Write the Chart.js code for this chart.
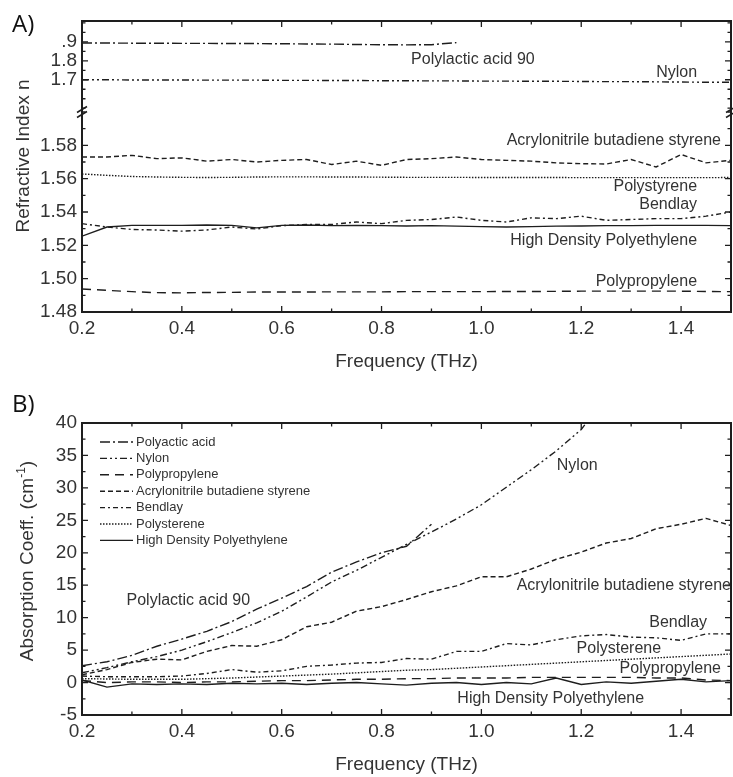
<!DOCTYPE html>
<html>
<head>
<meta charset="utf-8">
<script src="https://cdn.jsdelivr.net/npm/chart.js@4.4.1/dist/chart.umd.min.js"></script>
<style>
  body { margin: 0; background: #fff; }
  canvas { display: block; }
</style>
</head>
<body>
<canvas id="chartA" width="733" height="374"></canvas>
<canvas id="chartB" width="733" height="403"></canvas>
<script>
// frequency grid (THz), shared by every curve
const freq = [0.20, 0.25, 0.30, 0.35, 0.40, 0.45, 0.50, 0.55, 0.60, 0.65, 0.70, 0.75, 0.80, 0.85,
              0.90, 0.95, 1.00, 1.05, 1.10, 1.15, 1.20, 1.25, 1.30, 1.35, 1.40, 1.45, 1.50];

// A) refractive index n
const nPla     = [1.894, 1.894, 1.893, 1.893, 1.892, 1.892, 1.891, 1.891, 1.890, 1.889, 1.888, 1.886, 1.885, 1.884,
                  1.885, 1.896, null, null, null, null, null, null, null, null, null, null, null];
const nNylon   = [1.700, 1.700, 1.699, 1.699, 1.699, 1.698, 1.698, 1.698, 1.697, 1.697, 1.696, 1.696, 1.695, 1.695,
                  1.694, 1.694, 1.693, 1.693, 1.692, 1.692, 1.691, 1.690, 1.690, 1.689, 1.688, 1.687, 1.687];
const nPp      = [1.4938, 1.4930, 1.4922, 1.4916, 1.4915, 1.4917, 1.4918, 1.4920, 1.4920, 1.4920, 1.4921, 1.4921, 1.4921, 1.4922,
                  1.4922, 1.4922, 1.4922, 1.4923, 1.4923, 1.4924, 1.4925, 1.4925, 1.4925, 1.4925, 1.4925, 1.4923, 1.4922];
const nAbs     = [1.5730, 1.5730, 1.5740, 1.5720, 1.5725, 1.5705, 1.5715, 1.5700, 1.5710, 1.5715, 1.5685, 1.5705, 1.5680, 1.5715,
                  1.5720, 1.5730, 1.5715, 1.5710, 1.5705, 1.5695, 1.5690, 1.5688, 1.5715, 1.5670, 1.5745, 1.5695, 1.5710];
const nBendlay = [1.5330, 1.5310, 1.5295, 1.5292, 1.5285, 1.5292, 1.5310, 1.5298, 1.5318, 1.5325, 1.5325, 1.5340, 1.5330, 1.5350,
                  1.5355, 1.5370, 1.5350, 1.5340, 1.5365, 1.5360, 1.5375, 1.5350, 1.5355, 1.5360, 1.5360, 1.5375, 1.5400];
const nPs      = [1.5628, 1.5620, 1.5613, 1.5610, 1.5608, 1.5607, 1.5608, 1.5610, 1.5611, 1.5611, 1.5610, 1.5610, 1.5609, 1.5608,
                  1.5608, 1.5608, 1.5607, 1.5607, 1.5607, 1.5607, 1.5606, 1.5606, 1.5606, 1.5606, 1.5606, 1.5606, 1.5607];
const nHdpe    = [1.5255, 1.5310, 1.5320, 1.5320, 1.5320, 1.5322, 1.5320, 1.5305, 1.5320, 1.5322, 1.5318, 1.5320, 1.5318, 1.5316,
                  1.5318, 1.5315, 1.5312, 1.5310, 1.5312, 1.5315, 1.5316, 1.5318, 1.5318, 1.5320, 1.5320, 1.5320, 1.5318];

// B) absorption coefficient (cm-1)
const aPla     = [2.6, 3.2, 4.2, 5.6, 6.7, 7.9, 9.4, 11.3, 13.0, 14.8, 17.0, 18.6, 20.0, 21.0,
                  24.4, null, null, null, null, null, null, null, null, null, null, null, null];
const aNylon   = [1.5, 2.3, 3.2, 4.0, 5.0, 6.3, 7.7, 9.2, 11.0, 13.2, 15.5, 17.3, 19.3, 21.3,
                  23.2, 25.2, 27.4, 30.1, 32.8, 35.7, 39.0, 44.0, null, null, null, null, null];
const aPp      = [0.3, 0.0, 0.1, 0.1, 0.0, 0.1, 0.1, 0.2, 0.3, 0.3, 0.4, 0.5, 0.5, 0.6,
                  0.6, 0.7, 0.7, 0.7, 0.8, 0.8, 0.8, 0.8, 0.8, 0.7, 0.7, 0.4, 0.3];
const aAbs     = [1.2, 2.0, 3.1, 3.6, 3.5, 4.8, 5.7, 5.6, 6.6, 8.6, 9.3, 11.0, 11.7, 12.8,
                  14.0, 14.9, 16.3, 16.3, 17.5, 19.0, 20.1, 21.5, 22.2, 23.7, 24.4, 25.3, 24.2];
const aBendlay = [1.0, 0.9, 0.9, 0.9, 1.0, 1.4, 2.0, 1.6, 1.8, 2.5, 2.7, 3.0, 3.1, 3.7,
                  3.6, 4.8, 4.8, 6.0, 5.8, 6.6, 7.2, 7.4, 7.0, 6.9, 6.5, 7.5, 7.5];
const aPs      = [0.6, 0.55, 0.5, 0.5, 0.5, 0.6, 0.7, 0.85, 1.0, 1.15, 1.3, 1.5, 1.7, 1.9,
                  2.0, 2.2, 2.4, 2.6, 2.8, 3.0, 3.2, 3.4, 3.6, 3.8, 4.0, 4.2, 4.4];
const aHdpe    = [0.4, -0.7, -0.2, -0.3, -0.2, -0.3, -0.1, -0.2, -0.1, -0.3, -0.1, 0.0, -0.2, -0.4,
                  -0.1, 0.0, -0.3, 0.0, -0.2, 0.7, -0.3, 0.1, -0.1, 0.2, 0.5, 0.1, 0.3];

// legend names (order of datasets)
const legendNames = ['Polyactic acid', 'Nylon', 'Polypropylene', 'Acrylonitrile butadiene styrene',
                     'Bendlay', 'Polysterene', 'High Density Polyethylene'];

// ticks
const xTicks = [0.2, 0.4, 0.6, 0.8, 1.0, 1.2, 1.4];
const xTickLabels = ['0.2', '0.4', '0.6', '0.8', '1.0', '1.2', '1.4'];
const nLowTicks = [1.48, 1.50, 1.52, 1.54, 1.56, 1.58];
const nLowTickLabels = ['1.48', '1.50', '1.52', '1.54', '1.56', '1.58'];
const nUpTicks = [1.7, 1.8, 1.9];
const nUpTickLabels = ['1.7', '1.8', '.9'];
const aTicks = [-5, 0, 5, 10, 15, 20, 25, 30, 35, 40];
const aTickLabels = ['-5', '0', '5', '10', '15', '20', '25', '30', '35', '40'];

const FONT = '"Liberation Sans", Arial, sans-serif';
const INK = '#1e1e1e';
const TEXT = '#333';
const dashes = [[10, 3, 2, 3], [7, 3, 2, 3, 2, 3], [9, 6], [5, 3], [5, 3, 2, 3], [1.5, 1.5], []];

Chart.defaults.font.family = FONT;
Chart.defaults.color = TEXT;

function makeDataset(i, values, axis) {
  return {
    label: legendNames[i],
    data: freq.map((f, k) => ({ x: f, y: values[k] })),
    borderColor: INK,
    borderWidth: 1.4,
    borderDash: dashes[i],
    pointRadius: 0,
    fill: false,
    tension: 0,
    yAxisID: axis
  };
}

function fixedTicks(values) {
  return s => { s.ticks = values.map(v => ({ value: v })); };
}

function xScale() {
  return {
    type: 'linear', min: 0.2, max: 1.5,
    afterBuildTicks: fixedTicks(xTicks),
    afterFit: s => { s.height = 62; },
    grid: { display: false, drawTicks: false },
    border: { display: false },
    ticks: { padding: 5, font: { size: 19 }, color: TEXT, maxRotation: 0, autoSkip: false,
             callback: (v, i) => xTickLabels[i] },
    title: { display: true, text: 'Frequency (THz)', font: { size: 19 }, color: TEXT,
             padding: { top: 0, bottom: 1 } }
  };
}

function yScale(min, max, ticks, labels, extra) {
  return Object.assign({
    type: 'linear', position: 'left', min: min, max: max,
    afterBuildTicks: fixedTicks(ticks),
    afterFit: s => { s.width = 82; },
    grid: { display: false, drawTicks: false },
    border: { display: false },
    ticks: { padding: 5, font: { size: 19 }, color: TEXT, autoSkip: false,
             callback: (v, i) => labels[i] }
  }, extra);
}

// frame, inward ticks (both sides) and axis break
const framePlugin = {
  id: 'frame',
  afterDatasetsDraw(chart, args, opts) {
    const { ctx, chartArea: a } = chart;
    ctx.save();
    ctx.strokeStyle = INK;
    ctx.lineWidth = 1.3;
    for (const [id, step] of Object.entries(opts.minor)) {
      const s = chart.scales[id];
      const k0 = Math.ceil(s.min / step - 1e-6), k1 = Math.floor(s.max / step + 1e-6);
      for (let k = k0; k <= k1; k++) {
        const v = k * step;
        const major = s.ticks.some(t => Math.abs(t.value - v) < step / 10);
        const len = major ? 6 : 3.5;
        const p = s.getPixelForValue(v);
        ctx.beginPath();
        if (s.isHorizontal()) {
          ctx.moveTo(p, a.bottom); ctx.lineTo(p, a.bottom - len);
          ctx.moveTo(p, a.top); ctx.lineTo(p, a.top + len);
        } else {
          ctx.moveTo(a.left, p); ctx.lineTo(a.left + len, p);
          ctx.moveTo(a.right, p); ctx.lineTo(a.right - len, p);
        }
        ctx.stroke();
      }
    }
    ctx.lineWidth = 2;
    ctx.strokeRect(a.left, a.top, a.right - a.left, a.bottom - a.top);
    if (opts.breakAt) {
      const y = chart.scales[opts.breakAt].bottom;
      ctx.lineWidth = 1.5;
      for (const x of [a.left, a.right]) {
        for (const d of [-2.5, 2.5]) {
          ctx.beginPath();
          ctx.moveTo(x - 5, y + d + 3);
          ctx.lineTo(x + 5, y + d - 3);
          ctx.stroke();
        }
      }
    }
    ctx.restore();
  }
};

// panel letter, y title, curve labels, legend
const notesPlugin = {
  id: 'notes',
  afterDraw(chart, args, opts) {
    const { ctx, chartArea: a } = chart;
    ctx.save();
    ctx.font = '24px "Open Sans", sans-serif';
    ctx.textAlign = 'left';
    ctx.textBaseline = 'alphabetic';
    ctx.fillStyle = '#111';
    ctx.fillText(opts.panel, 12, opts.panelY);

    // rotated y title, with optional superscript part
    ctx.fillStyle = TEXT;
    ctx.save();
    ctx.translate(opts.titleX, opts.titleY);
    ctx.rotate(-Math.PI / 2);
    const big = '19px ' + FONT, small = '12px ' + FONT;
    let total = 0;
    for (const p of opts.yTitle) {
      ctx.font = p.sup ? small : big;
      total += ctx.measureText(p.t).width;
    }
    let cx = -total / 2;
    ctx.textBaseline = 'middle';
    for (const p of opts.yTitle) {
      ctx.font = p.sup ? small : big;
      ctx.fillText(p.t, cx, p.sup ? -6 : 0);
      cx += ctx.measureText(p.t).width;
    }
    ctx.restore();

    ctx.font = '16px ' + FONT;
    ctx.textBaseline = 'middle';
    for (const n of opts.items) {
      ctx.textAlign = n.align;
      ctx.fillText(n.text, chart.scales.x.getPixelForValue(n.x), chart.scales[n.axis].getPixelForValue(n.y));
    }

    if (opts.legend) {
      ctx.font = '13px ' + FONT;
      ctx.textAlign = 'left';
      ctx.strokeStyle = INK;
      ctx.lineWidth = 1.4;
      chart.data.datasets.forEach((ds, i) => {
        const y = a.top + 19 + i * 16.4;
        ctx.setLineDash(ds.borderDash);
        ctx.beginPath();
        ctx.moveTo(a.left + 18, y);
        ctx.lineTo(a.left + 51, y);
        ctx.stroke();
        ctx.setLineDash([]);
        ctx.fillText(ds.label, a.left + 54, y);
      });
    }
    ctx.restore();
  }
};

new Chart(document.getElementById('chartA'), {
  type: 'line',
  data: {
    datasets: [
      makeDataset(0, nPla, 'yUp'),
      makeDataset(1, nNylon, 'yUp'),
      makeDataset(2, nPp, 'yLow'),
      makeDataset(3, nAbs, 'yLow'),
      makeDataset(4, nBendlay, 'yLow'),
      makeDataset(5, nPs, 'yLow'),
      makeDataset(6, nHdpe, 'yLow')
    ]
  },
  options: {
    responsive: false,
    animation: false,
    events: [],
    layout: { padding: { top: 21, right: 2, left: 0, bottom: 0 } },
    scales: {
      x: xScale(),
      yLow: yScale(1.48, 1.60, nLowTicks, nLowTickLabels, { stack: 'n', stackWeight: 200 }),
      yUp: yScale(1.53, 2.01, nUpTicks, nUpTickLabels, { stack: 'n', stackWeight: 91 })
    },
    plugins: {
      legend: { display: false },
      tooltip: { enabled: false },
      frame: { minor: { x: 0.1, yLow: 0.01, yUp: 0.05 }, breakAt: 'yUp' },
      notes: {
        panel: 'A)', panelY: 32,
        titleX: 24, titleY: 156,
        yTitle: [{ t: 'Refractive Index n' }],
        legend: false,
        items: [
          { text: 'Polylactic acid 90', x: 0.983, y: 1.805, axis: 'yUp', align: 'center' },
          { text: 'Nylon', x: 1.432, y: 1.737, axis: 'yUp', align: 'right' },
          { text: 'Acrylonitrile butadiene styrene', x: 1.48, y: 1.583, axis: 'yLow', align: 'right' },
          { text: 'Polystyrene', x: 1.432, y: 1.555, axis: 'yLow', align: 'right' },
          { text: 'Bendlay', x: 1.432, y: 1.5447, axis: 'yLow', align: 'right' },
          { text: 'High Density Polyethylene', x: 1.432, y: 1.5231, axis: 'yLow', align: 'right' },
          { text: 'Polypropylene', x: 1.432, y: 1.4981, axis: 'yLow', align: 'right' }
        ]
      }
    }
  },
  plugins: [framePlugin, notesPlugin]
});

new Chart(document.getElementById('chartB'), {
  type: 'line',
  data: {
    datasets: [
      makeDataset(0, aPla, 'y'),
      makeDataset(1, aNylon, 'y'),
      makeDataset(2, aPp, 'y'),
      makeDataset(3, aAbs, 'y'),
      makeDataset(4, aBendlay, 'y'),
      makeDataset(5, aPs, 'y'),
      makeDataset(6, aHdpe, 'y')
    ]
  },
  options: {
    responsive: false,
    animation: false,
    events: [],
    layout: { padding: { top: 49, right: 2, left: 0, bottom: 0 } },
    scales: {
      x: xScale(),
      y: yScale(-5, 40, aTicks, aTickLabels, {})
    },
    plugins: {
      legend: { display: false },
      tooltip: { enabled: false },
      frame: { minor: { x: 0.1, y: 2.5 } },
      notes: {
        panel: 'B)', panelY: 38,
        titleX: 28, titleY: 187,
        yTitle: [{ t: 'Absorption Coeff. (cm' }, { t: '-1', sup: true }, { t: ')' }],
        legend: true,
        items: [
          { text: 'Nylon', x: 1.192, y: 33.5, axis: 'y', align: 'center' },
          { text: 'Polylactic acid 90', x: 0.413, y: 12.6, axis: 'y', align: 'center' },
          { text: 'Acrylonitrile butadiene styrene', x: 1.5, y: 15.0, axis: 'y', align: 'right' },
          { text: 'Bendlay', x: 1.452, y: 9.3, axis: 'y', align: 'right' },
          { text: 'Polysterene', x: 1.36, y: 5.2, axis: 'y', align: 'right' },
          { text: 'Polypropylene', x: 1.48, y: 2.1, axis: 'y', align: 'right' },
          { text: 'High Density Polyethylene', x: 1.326, y: -2.4, axis: 'y', align: 'right' }
        ]
      }
    }
  },
  plugins: [framePlugin, notesPlugin]
});
</script>
</body>
</html>
